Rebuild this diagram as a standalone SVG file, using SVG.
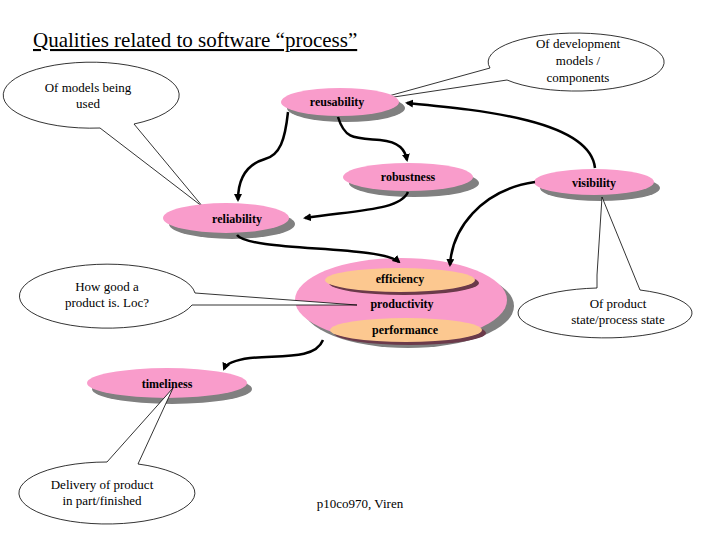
<svg xmlns="http://www.w3.org/2000/svg" width="720" height="540" viewBox="0 0 720 540" font-family="Liberation Serif, serif">
<defs>
<marker id="ah" markerWidth="8" markerHeight="8" refX="6" refY="4" orient="auto" markerUnits="userSpaceOnUse"><path d="M0,0 L8,4 L0,8 z" fill="#000"/></marker>
<style>
.sh{fill:#808080}
.pk{fill:#f99ccb}
.or{fill:#fcc890}
.orsh{fill:#6b3a4a}
.nt{font-size:12px;font-weight:bold;fill:#000;text-anchor:middle}
.co{fill:#fff;stroke:#000;stroke-width:0.8}
.ct{font-size:13px;fill:#000;text-anchor:middle}
.ar{fill:none;stroke:#000;stroke-width:2.5;marker-end:url(#ah)}
</style>
</defs>
<rect width="720" height="540" fill="#fff"/>
<text x="33" y="47" font-size="21" text-decoration="underline">Qualities related to software “process”</text>

<g id="c-models">
<path class="co" d="M100,128 A88,33 0 1 1 134,124 L203,207 Z"/>
<text class="ct" x="88" y="92">Of models being</text><text class="ct" x="88" y="108">used</text>
</g>
<g id="c-dev">
<path class="co" d="M490,68 A88,29 0 1 1 507,80 L374,100 Z"/>
<text class="ct" x="578" y="48">Of development</text><text class="ct" x="578" y="65">models /</text><text class="ct" x="578" y="82">components</text>
</g>

<g id="n-reusability"><ellipse class="sh" cx="346" cy="108" rx="59" ry="14"/><ellipse class="pk" cx="340" cy="102" rx="59" ry="14"/><text class="nt" x="337" y="106">reusability</text></g>
<g id="n-robustness"><ellipse class="sh" cx="414" cy="183" rx="65" ry="14"/><ellipse class="pk" cx="408" cy="177" rx="65" ry="14"/><text class="nt" x="408" y="181">robustness</text></g>
<g id="n-visibility"><ellipse class="sh" cx="600" cy="188" rx="60" ry="13"/><ellipse class="pk" cx="594" cy="182" rx="60" ry="13"/><text class="nt" x="594" y="187">visibility</text></g>
<g id="n-reliability"><ellipse class="sh" cx="232" cy="224" rx="63" ry="15"/><ellipse class="pk" cx="226" cy="218" rx="63" ry="15"/><text class="nt" x="237" y="223">reliability</text></g>
<g id="n-productivity">
<ellipse class="sh" cx="408" cy="306" rx="106" ry="42"/><ellipse class="pk" cx="401" cy="300" rx="106" ry="42"/>
<ellipse class="orsh" cx="404" cy="283" rx="75" ry="12"/><ellipse class="or" cx="400" cy="280" rx="75" ry="12"/><text class="nt" x="400" y="283">efficiency</text>
<text class="nt" x="402" y="308">productivity</text>
<ellipse class="orsh" cx="410" cy="333" rx="76" ry="12"/><ellipse class="or" cx="406" cy="330" rx="76" ry="12"/><text class="nt" x="405" y="334">performance</text>
</g>
<g id="n-timeliness"><ellipse class="sh" cx="172" cy="389" rx="80" ry="15"/><ellipse class="pk" cx="167" cy="383" rx="80" ry="15"/><text class="nt" x="167" y="388">timeliness</text></g>

<g id="c-howgood">
<path class="co" d="M195,293 A88,32 0 1 0 192,305 L357,305 Z"/>
<text class="ct" x="107" y="291">How good a</text><text class="ct" x="107" y="307">product is. Loc?</text>
</g>
<g id="c-state">
<path class="co" d="M640,290 A87,25 0 1 1 597,288 L597,275 L602,197 Z"/>
<text class="ct" x="618" y="308">Of product</text><text class="ct" x="618" y="324">state/process state</text>
</g>
<g id="c-delivery">
<path class="co" d="M107,462 A88,31 0 1 0 138,464 L173,388 Z"/>
<text class="ct" x="102" y="489">Delivery of product</text><text class="ct" x="102" y="505">in part/finished</text>
</g>

<g id="connectors">
<path class="ar" d="M288,112 C285,140 280,155 265,159 C245,165 238,180 238,200"/>
<path class="ar" d="M338,117 C345,140 355,138 380,140 C400,142 405,150 407,160"/>
<path class="ar" d="M408,192 C400,210 360,210 305,218"/>
<path class="ar" d="M237,235 C250,252 380,245 399,262"/>
<path class="ar" d="M595,168 C590,120 480,110 407,103"/>
<path class="ar" d="M535,182 C480,190 452,230 450,265"/>
<path class="ar" d="M323,340 C315,360 280,355 250,358 C235,360 226,364 224,369"/>
</g>

<text x="360" y="508" font-size="13" text-anchor="middle">p10co970, Viren</text>
</svg>
